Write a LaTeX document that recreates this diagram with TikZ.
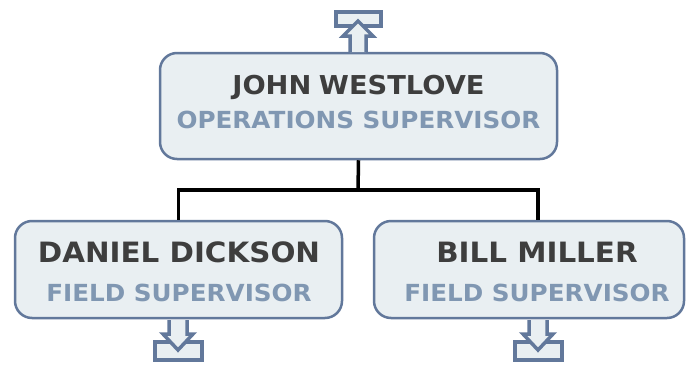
\documentclass[tikz,border=0pt]{standalone}
\usepackage{fontspec}
\setmainfont{DejaVu Sans}[FakeStretch=1.05]
\usetikzlibrary{positioning,calc}
\definecolor{boxline}{RGB}{98,120,155}
\definecolor{boxfill}{RGB}{233,239,242}
\definecolor{namegray}{RGB}{62,62,62}
\definecolor{rolegray}{RGB}{128,151,178}
\tikzset{
  person/.style={draw=boxline,fill=boxfill,line width=2.5pt,rounded corners=17pt},
  who/.style   ={font=\bfseries\fontsize{26}{30}\selectfont,text=namegray,anchor=base,inner sep=0pt},
  bigwho/.style={who,font=\bfseries\fontsize{28}{32}\selectfont},
  role/.style  ={font=\bfseries\fontsize{23.5}{28}\selectfont,text=rolegray,anchor=base,inner sep=0pt},
  tie/.style   ={line width=3.5pt,black},
  icon/.style  ={draw=boxline,fill=boxfill,line width=3.5pt},
}

\begin{document}
\begin{tikzpicture}[x=1pt,y=-1pt]
  \useasboundingbox (0,0) rectangle (687,364);

  % boxes
  \node[person,minimum width=397pt,minimum height=106pt] (ops) at (358.5,106) {};
  \node[person,minimum width=327pt,minimum height=97pt] (dan) at (178.5,269.5) {};
  \node[person,minimum width=310pt,minimum height=97pt] (bill) at (529,269.5) {};

  % texts
  \node[who]    (opsname) at (358.5,94)  {JOHN\hspace{-2pt} WESTLOVE};
  \node[role]   (opsrole) at (358.5,128) {OPERATIONS SUPERVISOR};
  \node[bigwho] (danname) at (179,262) {DANIEL DICKSON};
  \node[role]   (danrole) at (179,301) {FIELD SUPERVISOR};
  \node[bigwho] (billname) at (537,262) {BILL MILLER};
  \node[role]   (billrole) at (537,301) {FIELD SUPERVISOR};

  % connectors
  \coordinate (split) at (358,190);
  \draw[tie] (ops.south) -- (split);
  \draw[tie] (dan.north) |- (split) -| ([xshift=9pt]bill.north);

  % up icon above the top box
  \draw[icon] (336,12) rectangle (381,26);
  \draw[icon,line join=miter] (350,52) -- (350,36) -- (343,36) -- (358,21)
    -- (373,36) -- (366,36) -- (366,52);

  % down icons under the lower boxes
  \foreach \cx in {178,538}{
    \draw[icon] (\cx-23,342) rectangle (\cx+24,360);
    \draw[icon,line join=miter] (\cx-9,320) -- (\cx-9,334) -- (\cx-15,334)
      -- (\cx,350) -- (\cx+15,334) -- (\cx+9,334) -- (\cx+9,320);
  }
\end{tikzpicture}
\end{document}
